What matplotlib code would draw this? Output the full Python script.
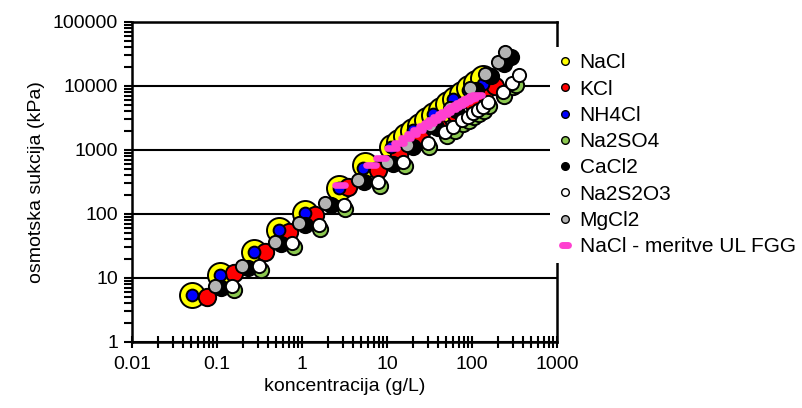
import matplotlib.pyplot as plt
from matplotlib.lines import Line2D
from matplotlib.markers import MarkerStyle
from matplotlib.ticker import LogLocator, NullFormatter

plt.rcParams['font.family'] = ['Liberation Sans', 'DejaVu Sans']

# podatki (koncentracija g/L, osmotska sukcija kPa), odčitano s slike
nacl_c = [0.051, 0.108, 0.27, 0.53, 1.09, 2.69, 5.5, 11.5, 13.8, 16.7, 20.2, 24.4, 29.4,
          35.6, 43.0, 51.9, 62.7, 75.7, 91.4, 110, 133]
nacl_s = [5.4, 11.1, 25.7, 56, 102, 251, 583, 1114, 1349, 1636, 1982, 2404, 2911,
          3524, 4275, 5176, 6266, 7600, 9200, 11140, 13520]

kcl_c = [0.077, 0.158, 0.372, 0.697, 1.43, 3.49, 7.8, 14, 25, 40, 65, 100, 140, 185]
kcl_s = [5.05, 11.8, 25.8, 52.9, 96.4, 264, 485, 850, 1480, 2320, 3680, 5560, 7660, 10000]

nh4cl_c = [0.051, 0.108, 0.27, 0.53, 1.09, 2.69, 5.24, 11, 20, 35, 60, 90, 133]
nh4cl_s = [5.4, 11.1, 25.7, 56, 102, 251, 523, 1100, 2050, 3600, 6200, 8800, 10600]

na2so4_c = [0.158, 0.325, 0.8, 1.65, 3.23, 8.2, 16.1, 31.6, 50.2, 62.3, 79.4, 93.3, 107,
            122, 140, 160, 240, 306, 330]
na2so4_s = [6.6, 13.4, 31, 58, 120, 275, 565, 1120, 1660, 1990, 2560, 2850, 3300,
            3670, 4090, 4890, 7000, 9650, 10500]

cacl2_c = [0.111, 0.229, 0.573, 1.075, 2.21, 5.37, 11.8, 20.1, 37.5, 64.3, 110, 166, 235, 285]
cacl2_s = [7.1, 14.3, 34.3, 66.6, 137, 315, 605, 1115, 2280, 4210, 8650, 14300, 22000, 28500]

na2s2o3_c = [0.151, 0.31, 0.764, 1.57, 3.08, 7.85, 15.4, 30.2, 47.9, 59.4, 75.7, 89, 102,
             117, 133, 153, 229, 292, 362]
na2s2o3_s = [7.6, 15.4, 35.6, 67, 138, 316, 650, 1290, 1910, 2290, 2940, 3280, 3790,
             4220, 4700, 5620, 8060, 11100, 14900]

mgcl2_c = [0.0947, 0.195, 0.487, 0.914, 1.88, 4.57, 10, 17.1, 31.9, 54.7, 94, 141, 200, 242]
mgcl2_s = [7.6, 15.4, 36.9, 71.6, 147, 339, 650, 1200, 2450, 4530, 9300, 15400, 23700, 34000]

meritve_c = [2.8, 6.5, 8.5, 11.5, 14, 16.7, 19.5, 23, 27, 31, 35, 40, 45, 50, 56, 62, 68,
             75, 82, 90, 98, 105, 113]
meritve_s = [284, 580, 750, 1070, 1300, 1540, 1800, 2050, 2350, 2650, 2900, 3250, 3600,
             3900, 4300, 4650, 5000, 5400, 5800, 6200, 6600, 6900, 7200]

x_ticks = [0.01, 0.1, 1, 10, 100, 1000]
x_labels = ['0.01', '0.1', '1', '10', '100', '1000']
y_ticks = [1, 10, 100, 1000, 10000, 100000]
y_labels = ['1', '10', '100', '1000', '10000', '100000']

fig = plt.figure(figsize=(8.03, 4.08), dpi=100)
ax = fig.add_axes([132 / 803, 66 / 408, 425 / 803, 320 / 408])

# serije: (ime, x, y, barva, velikost markerja v pt)
series = [
    ('NaCl', nacl_c, nacl_s, '#ffff00', 18),
    ('KCl', kcl_c, kcl_s, '#ff0000', 12.5),
    ('NH4Cl', nh4cl_c, nh4cl_s, '#0000ff', 8.5),
    ('Na2SO4', na2so4_c, na2so4_s, '#8cc850', 11),
    ('CaCl2', cacl2_c, cacl2_s, '#000000', 11),
    ('Na2S2O3', na2s2o3_c, na2s2o3_s, '#ffffff', 9.5),
    ('MgCl2', mgcl2_c, mgcl2_s, '#b4b4b4', 9.5),
]

handles = []
for name, xs, ys, col, ms in series:
    ax.plot(xs, ys, linestyle='none', marker='o', markersize=ms,
            markerfacecolor=col, markeredgecolor='black', markeredgewidth=1.4)
    handles.append(Line2D([], [], linestyle='none', marker='o', markersize=5.5,
                          markerfacecolor=col, markeredgecolor='black',
                          markeredgewidth=1.0, label=name))

dash = MarkerStyle('_', capstyle='round')
ax.plot(meritve_c, meritve_s, linestyle='none', marker=dash, markersize=7,
        markeredgecolor='#ff40d0', markeredgewidth=4.8)
handles.append(Line2D([], [], linestyle='none', marker=dash, markersize=4.5,
                      markeredgecolor='#ff40d0', markeredgewidth=5,
                      label='NaCl - meritve UL FGG'))

ax.set_xscale('log')
ax.set_yscale('log')
ax.set_xlim(0.01, 1000)
ax.set_ylim(1, 100000)

ax.set_xticks(x_ticks)
ax.set_xticklabels(x_labels)
ax.set_yticks(y_ticks)
ax.set_yticklabels(y_labels)
ax.xaxis.set_minor_locator(LogLocator(base=10, subs=range(2, 10), numticks=20))
ax.yaxis.set_minor_locator(LogLocator(base=10, subs=range(2, 10), numticks=20))
ax.xaxis.set_minor_formatter(NullFormatter())
ax.yaxis.set_minor_formatter(NullFormatter())

ax.tick_params(axis='x', which='both', direction='inout', length=8, width=1.5,
               labelsize=14, pad=6)
ax.tick_params(axis='y', which='both', direction='out', length=6, width=1.5,
               labelsize=14, pad=4)

ax.grid(axis='y', which='major', color='black', linewidth=1.5)
ax.set_axisbelow(True)
for sp in ax.spines.values():
    sp.set_linewidth(1.8)
    sp.set_color('black')

ax.set_xlabel('koncentracija (g/L)', fontsize=14, labelpad=4)
ax.set_ylabel('osmotska sukcija (kPa)', fontsize=14, labelpad=6)

leg = fig.legend(handles=handles, loc='upper left',
                 bbox_to_anchor=(550.5 / 803, 1 - 47 / 408),
                 bbox_transform=fig.transFigure, frameon=True, fancybox=False,
                 edgecolor='none', facecolor='white', framealpha=1,
                 fontsize=15, borderaxespad=0, borderpad=0.3,
                 handlelength=0.8, handletextpad=0.3, labelspacing=0.35)

fig.savefig('out.png', dpi=100)
